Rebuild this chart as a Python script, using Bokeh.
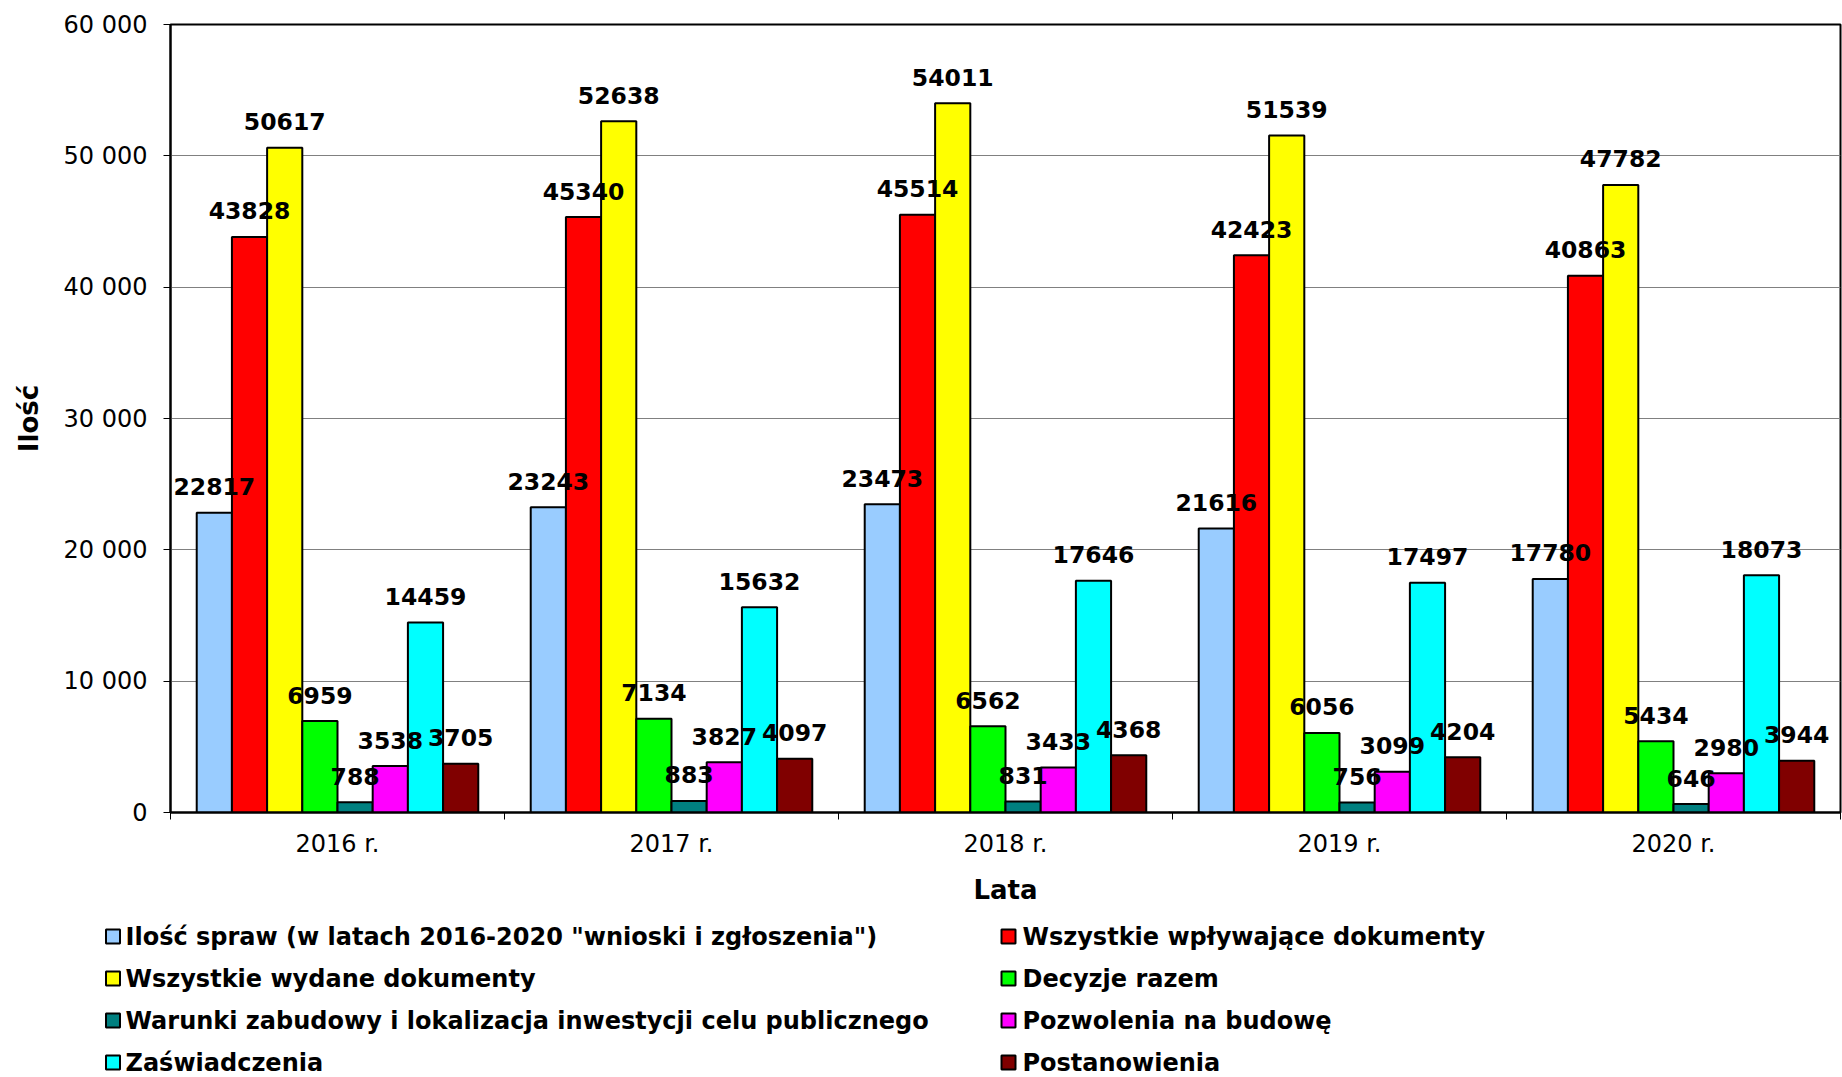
from bokeh.plotting import figure
from bokeh.layouts import column
from bokeh.models import ColumnDataSource, Range1d, FixedTicker
from bokeh.core.properties import value
from bokeh.embed import file_html
from bokeh.resources import INLINE

years = ["2016 r.", "2017 r.", "2018 r.", "2019 r.", "2020 r."]
series_names = [
    'Ilość spraw (w latach 2016-2020 "wnioski i zgłoszenia")',
    "Wszystkie wpływające dokumenty",
    "Wszystkie wydane dokumenty",
    "Decyzje razem",
    "Warunki zabudowy i lokalizacja inwestycji celu publicznego",
    "Pozwolenia na budowę",
    "Zaświadczenia",
    "Postanowienia",
]
ilosc_spraw = [22817, 23243, 23473, 21616, 17780]
wplywajace = [43828, 45340, 45514, 42423, 40863]
wydane = [50617, 52638, 54011, 51539, 47782]
decyzje = [6959, 7134, 6562, 6056, 5434]
warunki = [788, 883, 831, 756, 646]
pozwolenia = [3538, 3827, 3433, 3099, 2980]
zaswiadczenia = [14459, 15632, 17646, 17497, 18073]
postanowienia = [3705, 4097, 4368, 4204, 3944]
y_ticks = [0, 10000, 20000, 30000, 40000, 50000, 60000]
y_tick_labels = ["0", "10 000", "20 000", "30 000", "40 000", "50 000", "60 000"]
colors = ["#99CCFF", "#FF0000", "#FFFF00", "#00FF00", "#008080", "#FF00FF", "#00FFFF", "#800000"]

series = [ilosc_spraw, wplywajace, wydane, decyzje, warunki, pozwolenia, zaswiadczenia, postanowienia]

FONT = "DejaVu Sans"
W = 1842
H_MAIN = 914
H_LEG = 163
FRAME_L = 170
FRAME_R = 1840

p = figure(width=W, height=H_MAIN, x_range=Range1d(0, len(years)), y_range=Range1d(0, 60000),
           output_backend="svg", toolbar_location=None,
           min_border_left=FRAME_L, min_border_top=24, min_border_right=W - FRAME_R,
           min_border_bottom=H_MAIN - 812)
p.frame_align = False
p.outline_line_color = "black"
p.outline_line_width = 2
p.background_fill_color = "white"
p.border_fill_color = "white"

# axes
xa = p.xaxis[0]
xa.ticker = FixedTicker(ticks=[i + 0.5 for i in range(len(years))],
                        minor_ticks=list(range(len(years) + 1)))
xa.major_label_overrides = {i + 0.5: y for i, y in enumerate(years)}
xa.major_tick_line_color = None
xa.major_tick_out = 0
xa.major_tick_in = 0
xa.minor_tick_out = 7
xa.minor_tick_in = 0
xa.minor_tick_line_color = "black"
xa.axis_line_width = 2
xa.axis_line_color = "black"
xa.major_label_standoff = 10
xa.major_label_text_font = FONT
xa.major_label_text_font_size = "24px"
xa.major_label_text_color = "black"
xa.axis_label = "Lata"
xa.axis_label_text_font = FONT
xa.axis_label_text_font_size = "26px"
xa.axis_label_text_font_style = "bold"
xa.axis_label_text_color = "black"
xa.axis_label_standoff = 14

ya = p.yaxis[0]
ya.ticker = FixedTicker(ticks=y_ticks, minor_ticks=[])
ya.major_label_overrides = {t: l for t, l in zip(y_ticks, y_tick_labels)}
ya.major_tick_out = 7
ya.major_tick_in = 0
ya.major_tick_line_color = "black"
ya.minor_tick_line_color = None
ya.axis_line_width = 2
ya.axis_line_color = "black"
ya.major_label_standoff = 16
ya.major_label_text_font = FONT
ya.major_label_text_font_size = "24px"
ya.major_label_text_color = "black"
ya.axis_label = "Ilość"
ya.axis_label_text_font = FONT
ya.axis_label_text_font_size = "26px"
ya.axis_label_text_font_style = "bold"
ya.axis_label_text_color = "black"
ya.axis_label_standoff = 17

p.xgrid.visible = False
p.ygrid.ticker = FixedTicker(ticks=y_ticks)
p.ygrid.grid_line_color = "#808080"
p.ygrid.grid_line_width = 1

n = len(series)
group = 0.843
bw = group / n
text_sources = []
for k, (vals, col) in enumerate(zip(series, colors)):
    xs = [i + 0.5 - group / 2 + bw * (k + 0.5) for i in range(len(years))]
    src = ColumnDataSource(dict(x=xs, top=vals, label=[str(v) for v in vals]))
    p.vbar(x="x", top="top", bottom=0, width=bw, source=src,
           fill_color=col, line_color="black", line_width=2)
    text_sources.append(src)

for src in text_sources:
    p.text(x="x", y="top", text="label", source=src, text_align="center",
           text_baseline="alphabetic", y_offset=-26, text_font=value(FONT),
           text_font_style="bold", text_font_size="23.5px", text_color="black")

# legend panel (two columns, row-major like the original); x/y in page pixels
leg = figure(width=W, height=H_LEG, x_range=Range1d(0, W), y_range=Range1d(H_LEG, 0),
             output_backend="svg", toolbar_location=None,
             min_border_left=0, min_border_right=0, min_border_top=0,
             min_border_bottom=0, x_axis_type=None, y_axis_type=None)
leg.frame_align = False
leg.outline_line_color = None
leg.grid.visible = False
col_sq = [112.5, 1008]
col_tx = [125, 1022]
row_y = [22, 64, 106, 148]
lsrc = ColumnDataSource(dict(
    sx=[col_sq[i % 2] for i in range(n)],
    tx=[col_tx[i % 2] for i in range(n)],
    y=[row_y[i // 2] for i in range(n)],
    color=colors,
    name=series_names,
))
leg.scatter(x="sx", y="y", source=lsrc, marker="square", size=14,
            fill_color="color", line_color="black", line_width=2)
leg.text(x="tx", y="y", text="name", source=lsrc, text_align="left", text_baseline="middle",
         text_font=value(FONT), text_font_style="bold", text_font_size="24px",
         text_color="black")

layout = column(p, leg, spacing=0)
open("out.html", "w").write(file_html(layout, INLINE))
